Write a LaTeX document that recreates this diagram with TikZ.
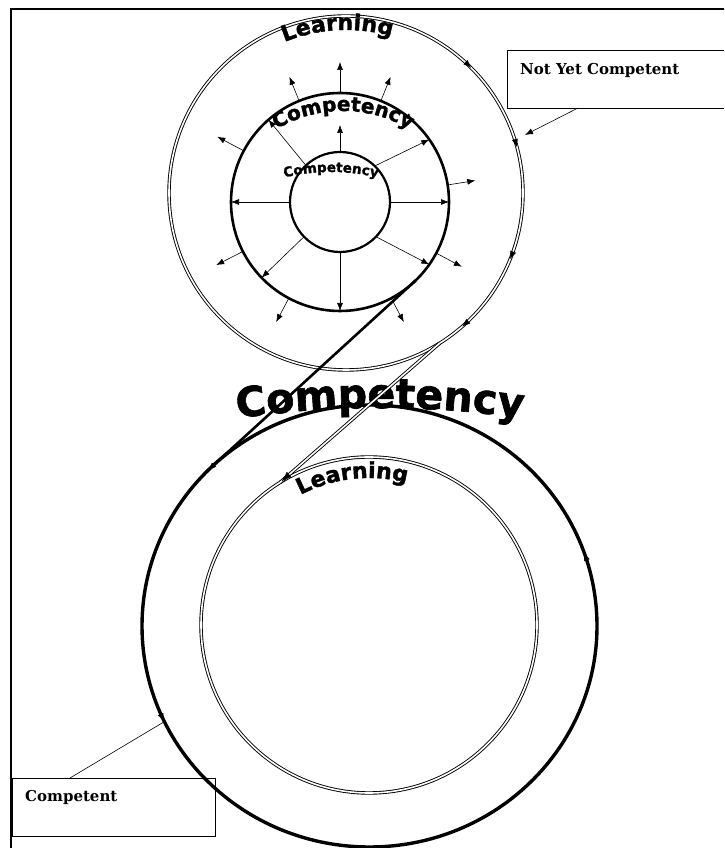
\documentclass[tikz,border=0pt]{standalone}
\usepackage{fontspec}
\usepackage{tikz}
\usetikzlibrary{positioning,arrows.meta,shapes.geometric,decorations.text,decorations.markings}
\newfontfamily\arcfont{DejaVu Sans}[BoldFeatures={FakeBold=1.6}]
\newfontfamily\notefont{DejaVu Serif}
\newcommand{\ringfont}{\fontsize{22}{22}\selectfont\arcfont\bfseries}
\newcommand{\midfont}{\fontsize{20}{20}\selectfont\arcfont\bfseries}
\newcommand{\corefont}{\fontsize{13.5}{13.5}\selectfont\arcfont\bfseries}
\newcommand{\headfont}{\fontsize{41}{41}\selectfont\arcfont\bfseries}

\begin{document}
\begin{tikzpicture}[
  x=1pt, y=1pt,
  >={Latex[length=8pt,width=6pt]},
  ring/.style={circle, draw, inner sep=0pt, outer sep=0pt, minimum size=#1},
  learnring/.style={ring=#1, double, double distance=1.6pt, line width=0.9pt},
  compring/.style={ring=#1, line width=2.6pt},
  spoke/.style={->, line width=0.6pt},
  flowtip/.style={decorate, decoration={markings, mark=at position 0.99 with {\arrow{Latex[length=8pt,width=6pt]}}}},
  arclabel/.style={decorate, decoration={text along path, text align=center, text={#1}}},
  notebox/.style={draw, line width=0.8pt, inner sep=0pt, outer sep=0pt, minimum height=58},
  notetext/.style={inner sep=0pt, font=\notefont\bfseries\fontsize{15}{17}\selectfont}
]
\clip (0,0) rectangle (724,848);
\draw[line width=1.6pt] (11,-5) -- (11,839) -- (730,839);

\node[learnring=354] (learnTop) at (346,655) {};
\node[compring=218] (comp) at (340,646) {};
\node[ring=100, line width=2.2pt] (core) at (340,646) {};
\node[ellipse, draw, inner sep=0pt, outer sep=0pt, minimum width=455, minimum height=442, line width=3.4pt] (big) at (369.5,222) {};
\node[learnring=336] (learnBot) at (369,223) {};

\node[notebox, minimum width=230, anchor=north west] (notyet) at (507,798) {};
\node[notetext, below right=13pt and 13pt of notyet.north west] (notyetText) {Not Yet Competent};
\node[notebox, minimum width=203, anchor=north west] (competent) at (12,70) {};
\node[notetext, below right=12pt and 13pt of competent.north west] (competentText) {Competent};

\path[arclabel={|\ringfont|Learning}] ([shift={(learnTop.center)}]133:163) arc[start angle=133, end angle=53, radius=163];
\path[arclabel={|\midfont|Competency}] ([shift={(343,607)}]130:130) arc[start angle=130, end angle=50, radius=130];
\path[arclabel={|\corefont|Competency}] ([shift={(331,476)}]105:200) arc[start angle=105, end angle=75, radius=200];
\path[arclabel={|\headfont|Competency}] ([shift={(380,-560)}]100:1000) arc[start angle=100, end angle=80, radius=1000];
\path[arclabel={|\ringfont|Learning}] ([shift={(learnBot.center)}]125:147) arc[start angle=125, end angle=68, radius=147];

\draw[spoke] (core.180) -- (comp.180);
\draw[spoke] (core.0) -- (comp.0);
\draw[spoke] (core.270) -- (comp.270);
\draw[spoke] (core.90) -- ++(0,27);
\draw[spoke] (core.133) -- (comp.131);
\draw[spoke] (core.46) -- (comp.35);
\draw[spoke] (core.224) -- (comp.224);
\draw[spoke] (core.316) -- (comp.325);

\draw[spoke] (comp.90) -- ++(90:31);
\draw[spoke] (comp.112) -- ++(112:26);
\draw[spoke] (comp.68) -- ++(68:26);
\draw[spoke] (comp.152) -- ++(152:30);
\draw[spoke] (comp.9) -- ++(9:28);
\draw[spoke] (comp.207) -- ++(207:30);
\draw[spoke] (comp.332) -- ++(332:29);
\draw[spoke] (comp.242) -- ++(242:27);
\draw[spoke] (comp.298) -- ++(298:27);

\path[flowtip] (learnTop.49) arc[start angle=49, end angle=45, radius=177];
\path[flowtip] (learnTop.19) arc[start angle=19, end angle=15, radius=177];
\path[flowtip] (learnTop.-18) arc[start angle=-18, end angle=-22, radius=177];
\path[flowtip] (learnTop.-45) arc[start angle=-45, end angle=-49, radius=177];
\path[flowtip] (comp.52) arc[start angle=52, end angle=48, radius=109];
\path[flowtip] (big.131) arc[start angle=131, end angle=136, x radius=227.5, y radius=221];
\path[flowtip] (big.201) arc[start angle=201, end angle=205, x radius=227.5, y radius=221];
\path[flowtip] (big.15) arc[start angle=15, end angle=19, x radius=227.5, y radius=221];

\draw[line width=2.6pt, line cap=round] (comp.314) -- (big.133);
\draw[double, double distance=1.6pt, line width=0.9pt] (learnTop.302) -- (learnBot.122);
\path[decorate, decoration={markings, mark=at position 0.99 with {\arrow{Latex[length=10pt,width=7pt]}}}] (learnTop.302) -- (learnBot.122);

\coordinate (nyTip) at (525,713);
\draw[->, line width=0.6pt] ([xshift=71pt]notyet.south west) -- (nyTip);
\draw[line width=0.6pt] ([xshift=58pt]competent.north west) -- (big.205);
\end{tikzpicture}
\end{document}
